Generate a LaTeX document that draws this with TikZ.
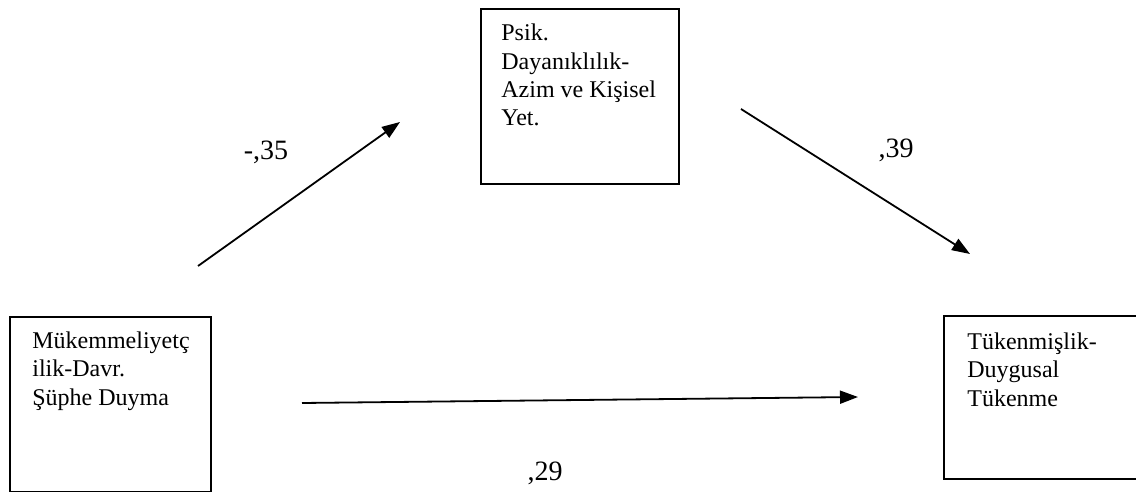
\documentclass[tikz,border=0pt]{standalone}
\usepackage{fontspec}
\setmainfont{Liberation Serif}
\usetikzlibrary{arrows.meta}
\begin{document}
\begin{tikzpicture}[x=0.5pt,y=-0.5pt,
  boxframe/.style={draw=black,line width=0.9pt,inner sep=0pt,anchor=north west},
  boxtext/.style={anchor=base west,align=left,inner sep=0pt,font=\fontsize{12}{14.2}\selectfont},
  coef/.style={anchor=base,inner sep=0pt,font=\fontsize{14}{16}\selectfont},
  arr/.style={line width=0.9pt,-{Triangle[length=9pt,width=6.5pt]}}]
\useasboundingbox (0,0) rectangle (1136,492);
% boxes
\node[boxframe,minimum width=100.5pt,minimum height=87.5pt] (mk) at (9,316) {};
\node[boxframe,minimum width=99pt,minimum height=87.5pt] (ps) at (480,8) {};
\node[anchor=north west,inner sep=0pt,minimum width=96pt,minimum height=81pt] (tk) at (944,316) {};
\draw[line width=0.9pt] (tk.north east) -- (tk.north west) -- (tk.south west) -- (tk.south east);
% texts (anchored at the baseline of the last line)
\node[boxtext] (mkt) at (32,405) {Mükemmeliyetç\\ilik-Davr.\\Şüphe Duyma};
\node[boxtext] (pst) at (501,126) {Psik.\\Dayanıklılık-\\Azim ve Kişisel\\Yet.};
\node[boxtext] (tkt) at (967,406) {Tükenmişlik-\\Duygusal\\Tükenme};
% arrows
\coordinate (a1s) at (198,266);
\coordinate (a1e) at (400,122);
\coordinate (a2s) at (741,109);
\coordinate (a2e) at (970,254);
\coordinate (a3s) at (302,403);
\coordinate (a3e) at (858,397);
\draw[arr] (a1s) -- (a1e);
\draw[arr] (a2s) -- (a2e);
\draw[arr] (a3s) -- (a3e);
% coefficients
\node[coef] (c1) at (266,160) {-,35};
\node[coef] (c2) at (896,158) {,39};
\node[coef] (c3) at (545,480) {,29};
\end{tikzpicture}
\end{document}
